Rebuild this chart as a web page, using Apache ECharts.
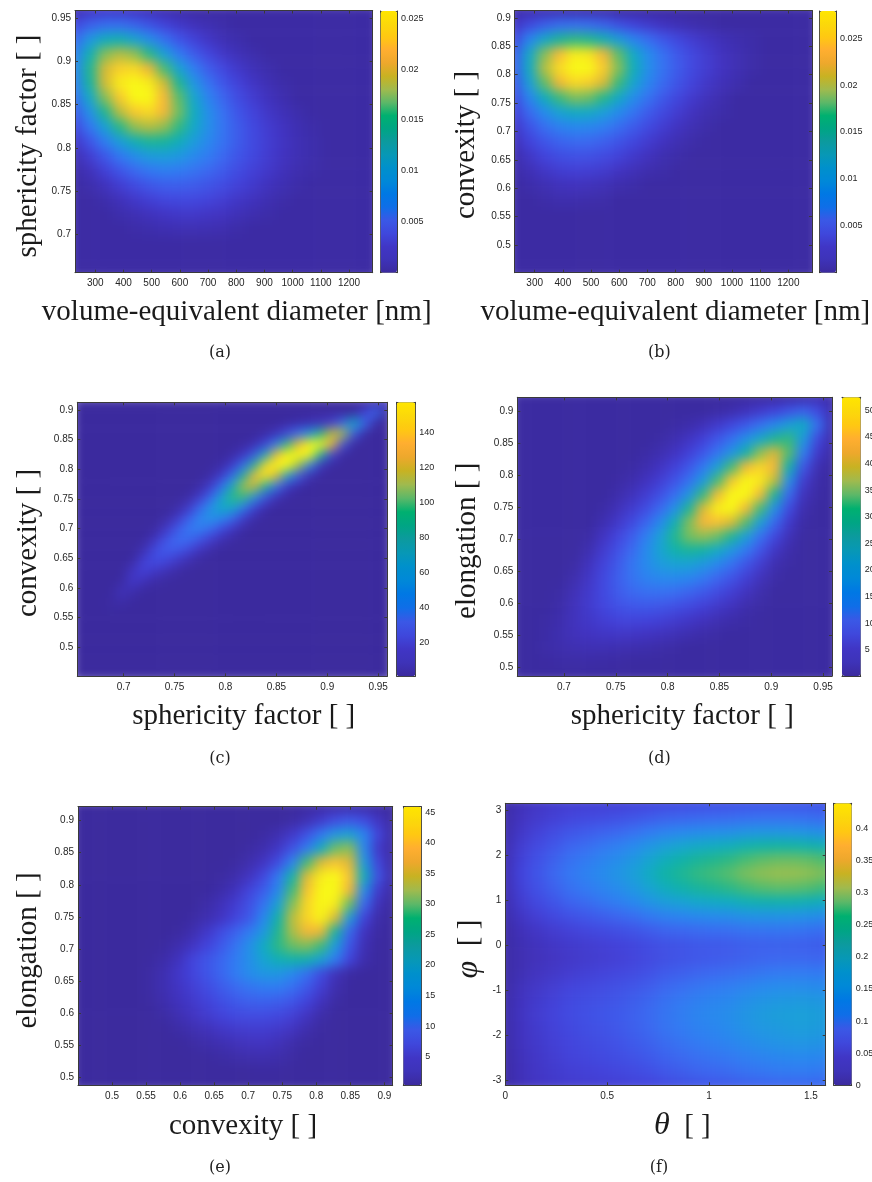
<!DOCTYPE html>
<html><head><meta charset="utf-8">
<style>
html,body{margin:0;padding:0;background:#fff;width:872px;height:1182px;overflow:hidden}
#clip,#heat,#main{position:absolute;left:0;top:0;width:872px;height:1182px}
#heat{filter:blur(6px)}
</style>
<script src="https://cdn.jsdelivr.net/npm/echarts@6/dist/echarts.min.js"></script>
</head><body>
<div id="clip"><div id="heat"></div></div>
<div id="main"></div>
<script>
// Each row: [first listed column, values...]; cells not listed hold the panel's background level.
// Panel (a) density, in units of 1e-3
const rowsA=[
[0,.7,1.3,1.6,1.5,1.2,.9,.6,.4],
[0,2.8,4.3,5.2,5.3,4.6,3.5,2.4,1.6,1,.7,.4],
[0,5,8.5,11,11.5,10,7.8,5.5,3.6,2.3,1.4,.8,.5],
[0,6.5,11.5,16,17.5,16.5,13.5,9.5,6.2,4,2.5,1.5,.9,.5],
[0,7,13,18.5,22,22.5,19.5,14.5,9.8,6.3,4,2.6,1.6,.9,.5],
[0,6.5,12.5,18.5,23.5,25.5,23.5,18.5,13,8.5,5.5,3.6,2.3,1.4,.8,.4],
[0,5.5,10.5,16,21.5,24.8,24.5,20.5,15,10.2,6.8,4.6,3,1.9,1.1,.6],
[0,4,8,13,17.5,21.5,22.5,20,15.5,11,7.7,5.3,3.6,2.4,1.5,.9,.5],
[0,2.8,5.8,9.5,13.5,16.5,17.5,16.5,13.8,10.5,7.8,5.6,4,2.8,1.9,1.2,.7,.4],
[0,1.6,3.6,6.3,9.2,11.5,12.8,12.6,11.2,9.1,7.2,5.5,4,2.9,2,1.3,.8,.5],
[0,.8,2,3.8,5.9,7.7,9,9.3,8.7,7.4,6.2,4.8,3.6,2.7,1.9,1.2,.8,.5],
[0,.4,1,2.2,3.6,4.9,5.9,6.4,6.2,5.6,4.8,3.9,3,2.2,1.6,1,.6,.4],
[1,.5,1.1,2,2.9,3.7,4.2,4.3,4,3.5,3,2.3,1.7,1.1,.7,.4],
[2,.5,1,1.6,2.1,2.6,2.8,2.7,2.4,2,1.5,1.1,.7,.4],
[3,.5,.8,1.1,1.4,1.6,1.6,1.4,1.2,.9,.6,.4],
[4,.4,.5,.7,.8,.8,.7,.6,.4],
[],[],[]];
// Panel (b) density, in units of 1e-3
const rowsB=[
[0,.5,.6,.7,.7,.6,.5,.4],
[0,1.5,3,4.5,5.5,5.8,5.5,4.7,3.6,2.6,1.9,1.3,.9,.6,.4],
[0,3,7.5,11,13.5,14.5,14,12.3,9.8,7.4,5.5,4,2.9,2,1.4,.9,.6,.4],
[0,4.5,11,17,22,25,24.5,21,16,11.3,8,5.7,4,2.8,1.9,1.2,.8,.4],
[0,4.7,11.5,18.5,24,27.5,27,23,17,12,8.3,5.9,4.2,2.9,2,1.3,.8,.4],
[0,4,10,16,21,23.8,23.2,19.8,15,10.7,7.5,5.3,3.7,2.5,1.6,1,.6],
[0,3.2,7.5,11.7,15,16.8,16.4,14.2,11.2,8.2,5.9,4.1,2.8,1.8,1.1,.6],
[0,2.4,5.3,8,10.3,11.4,11.2,9.9,8,6,4.3,3,2,1.2,.7,.4],
[0,1.7,3.7,5.6,7,7.7,7.6,6.8,5.6,4.3,3.1,2.1,1.3,.8,.4],
[0,1.1,2.6,3.9,4.8,5.3,5.2,4.6,3.8,2.9,2,1.3,.8,.4],
[0,.6,1.6,2.6,3.3,3.6,3.5,3.1,2.5,1.8,1.2,.7,.4],
[0,.4,.9,1.6,2.1,2.3,2.2,1.9,1.4,1,.6,.4],
[1,.5,.8,1.1,1.2,1.1,.9,.6,.4],
[2,.4,.6,.6,.5,.4],
[],[],[],[],[]];
// Panel (c) density
const rowsC=[
[27,2,7],
[25,1,12,28,1],
[19,1.6,3,5,7.6,12,27,58,26,1],
[16,.6,2,6,17,30,46,70,96,90,22,1],
[15,1.2,4,14,36,73,105,132,142,103,20],
[14,1.8,7.5,22,57,107,148,154,128,66,13],
[13,2,9.5,29,67,117,148,130,88,39,7],
[12,1.9,9.5,29,66,107,123,99,52,21,4],
[11,1.9,9,28,58,90,95,67,32,9,2],
[10,1.7,8.2,24,50,72,74,48,19,5,.7],
[9,1.9,7.8,24,42,56,56,36,13,3],
[8,1.7,8,21,36,44,39,27,10,2],
[7,1.2,7.4,19,31,35,28,17,8,1.8],
[6,.7,6.4,17.5,27,28,20,11,4.6,1.5],
[6,3.9,15,22,21,15,7,2.7,.8],
[5,1.4,11.7,17,14.7,9.4,4.3,1.4],
[5,7.2,12.9,8.8,5.2,2.3,.8],
[4,1.2,9.5,5.4,2.2,1],
[4,5.9,3.2,.8],
[3,1.5,2.4,.7],
[3,1,.6],
[],[],[],[],[],[]];
// Panel (d) density
const rowsD=[
[19,.7,1,1.5,1],
[14,.6,1.2,2.2,3.5,5,7,9,6,1.5],
[11,.6,1,2,3.5,5.5,8,11,15,19,22,11,1.5],
[10,.7,1.4,2.7,4.6,7.5,11,16,21,26,28,18,6,1],
[9,.7,1.4,2.6,4.6,7.6,11.5,17,24,33,38,30,13,3.5,.7],
[8,.6,1.3,2.6,4.6,7.5,12,19,29,41,45,41,24,7.5,1.6],
[7,.5,1.2,2.4,4.3,7,11,18,29,43,50,47,36,16,4,.9],
[7,1,2.2,4,6.6,10.5,17,28,41,51,50,41,26,10,2.3,.6],
[6,.7,2,3.7,6.2,10,16,26,38,48,49,41,29,16,6,1.3],
[6,1.5,3.3,5.8,9.5,15,23,32,41,42.5,38,30,19,10,3.5,.7],
[5,.7,2.6,5,8.3,13,19,26.5,31.5,33,31,26,19,11,5.5,1.9],
[5,1.4,3.8,6.6,10,15,20,24,25.5,24.5,21.5,17,12,7,3,1],
[4,.6,2.3,4.8,7.8,11.5,15,18,19.5,19.5,17.5,14.5,11,7.3,3.9,1.5,.6],
[4,1.2,3,5.5,8.4,11.3,13.5,14.8,15,14.2,12,9.5,7,4.4,2.2,.8],
[3,.6,1.8,3.5,5.7,8,9.8,10.8,11,10.5,9.4,7.8,5.9,4.2,2.5,1.1],
[3,.9,2.2,3.7,5.3,6.8,7.6,7.8,7.5,6.8,5.8,4.6,3.4,2.3,1.2,.6],
[2,.6,1.2,2.3,3.3,4.3,5,5.2,5,4.6,3.9,3.2,2.4,1.6,1,.6],
[2,.7,1.4,2.1,2.6,3,3.2,3,2.7,2.3,1.9,1.4,.9,.6],
[2,.8,1.2,1.5,1.6,1.6,1.5,1.3,1.1,.8,.6],
[2,.4,.6,.7,.7,.6,.5],
[]];
// Panel (e) density
const rowsE=[
[16,.6,.8,1,1.1,.9,.6],
[15,.7,1.6,3.3,5.5,6.8,5.5,2.6,.5],
[13,.6,1.4,3,6,10.5,15,17,12.5,4.5,.7],
[12,.6,1.3,2.8,6,11,19,27,28.5,13,3,.7],
[11,.5,1.2,2.6,5.5,12,25,33,37,33,16,4.5,.6],
[10,.5,1.1,2.4,5,10.5,21,33,41,43,37,20,6,1],
[9,.4,1,2.2,4.6,7.5,13,25,37,44.5,45,35,14,3.5,.6],
[8,.3,.9,2,3.6,6,10,17,28,39,45,41,27,9,2],
[8,.6,1.4,2.6,4.5,7,13,21,31,39,42,33,16,4.5,1],
[7,.5,1.3,3,5.5,8,11,15.5,23,30,35,34,22,8.5,2.4,.6],
[6,.5,1.3,2.6,4.5,7,10,14,19,24,27,28,25,16,6.5,1.7,.4],
[5,.4,1,2.2,4.5,6.5,8.5,11,14,17.5,20,21,20.5,17,11,4.5,1.2,.4],
[5,.6,1.5,3,4.5,6.5,8.5,11,13.5,15,15,13,9.8,5.5,2,.6],
[5,.6,1.5,2.6,3.9,5.5,7.2,8.8,10.2,11,11,9.6,7,3.8,1.3,.4],
[5,.5,1.2,2.2,3.2,4.4,5.8,7,7.8,8,7.6,6.5,4.5,2.3,.7],
[6,.7,1.5,2.4,3.4,4.4,5.1,5.4,5.4,5,4,2.5,1],
[7,.8,1.4,2,2.8,3.3,3.6,3.6,3.2,2.4,1.2,.5],
[8,.6,1.1,1.5,2,2.3,2.4,1.9,1.1,.5],
[9,.4,.7,1,1.2,1.3,1.1,.6],
[13,.4,.4],
[]];
// Panel (f) density, in units of 1e-2
const rowsF=[
[0,.6,1.7,2.5,3.1,3.5,3.7,3.8,3.9,4.2,4.5,4.9,5.2,5.5,5.7,5.9,6.2,6.4,6.5,6.4,6.3,6],
[0,.7,2.1,3,3.7,4.4,4.9,5.3,5.7,6.3,7,7.8,8.2,8.6,8.8,9,9.4,9.6,9.6,9.6,9.3,8.8],
[0,.9,2.8,4,5.2,6.3,7.1,7.9,8.6,9.6,10.9,12.1,12.8,13.4,13.8,14,14.8,15,15,14.9,14.5,13.7],
[0,1.2,3.5,5,6.5,8.1,9.2,10.4,11.6,13.1,15,16.8,17.9,18.9,19.5,20.1,21.2,21.8,22,21.9,21.4,20.5],
[0,1.4,4.1,6,7.8,9.7,11,12.4,13.8,15.6,17.9,20.2,21.6,23,23.9,24.8,26.2,27.2,27.7,27.7,27.3,26.4],
[0,1.5,4.5,6.5,8.5,10.5,12,13.5,15,17,19.5,22,23.5,25,26,27,28.5,29.5,30,30,29.5,28.5],
[0,1.4,4.1,6,7.8,9.7,11,12.4,13.8,15.6,17.9,20.2,21.6,22.9,23.8,24.7,26,26.9,27.3,27.2,26.7,25.7],
[0,1.2,3.5,5,6.5,8.1,9.2,10.4,11.6,13.1,15,16.7,17.6,18.6,19.2,19.7,20.7,21.2,21.3,21.2,20.6,19.7],
[0,.9,2.6,3.8,4.9,6,6.8,7.6,8.5,9.5,10.9,12.1,12.8,13.4,13.8,14,14.8,15,15,14.9,14.5,13.7],
[0,.6,1.8,2.6,3.4,4.1,4.7,5.3,5.8,6.5,7.4,8.3,8.7,9.1,9.4,9.6,10.1,10.3,10.4,10.2,9.9,9.4],
[0,.5,1.4,2,2.6,3.2,3.5,3.9,4.3,4.8,5.5,6.1,6.5,6.9,7.1,7.3,7.7,7.9,8,7.9,7.7,7.4],
[0,.4,1.3,1.8,2.3,2.8,3.2,3.5,3.9,4.4,5.1,5.8,6.3,6.7,7.1,7.4,7.8,8.3,8.5,8.6,8.5,8.3],
[0,.5,1.4,2.1,2.7,3.3,3.8,4.2,4.7,5.3,6,7,7.6,8.3,8.8,9.3,9.8,10.4,10.8,11,11,10.8],
[0,.6,1.9,2.7,3.5,4.3,4.8,5.3,5.8,6.5,7.4,8.6,9.4,10.2,10.9,11.5,12.4,13.1,13.6,13.8,13.7,13.4],
[0,.7,2.2,3.2,4.1,5,5.6,6.1,6.7,7.5,8.6,9.9,10.8,11.8,12.5,13.2,14.3,15,15.6,15.8,15.8,15.4],
[0,.8,2.3,3.4,4.3,5.3,5.9,6.5,7.1,7.9,9,10.3,11.4,12.5,13.3,14,15.1,16.1,16.7,17,17,16.5],
[0,.7,2.2,3.2,4.1,4.9,5.6,6.1,6.8,7.7,8.8,10.1,11,12,12.7,13.6,14.7,15.5,16,16.4,16.4,16],
[0,.7,2.1,3,3.8,4.5,5.1,5.6,6.2,7,8,9.2,10.1,11,11.7,12.6,13.5,14.3,14.9,15.2,15.2,14.8],
[0,.6,1.9,2.8,3.5,4.2,4.6,5.1,5.6,6.2,7,8.1,8.9,9.6,10.3,10.8,11.7,12.4,12.9,13.2,13.1,12.8],
[0,.6,1.8,2.6,3.2,3.7,4,4.3,4.7,5.3,5.9,6.8,7.5,8.3,8.7,9.3,10,10.5,11,11.1,11.1,10.8],
[0,.5,1.7,2.4,2.9,3.3,3.5,3.7,3.8,4.2,4.5,5.3,5.8,6.3,6.8,7.2,7.7,8.1,8.4,8.6,8.7,8.6]];

const diamTicks=[300,400,500,600,700,800,900,1000,1100,1200];
const sphTicks=[.7,.75,.8,.85,.9,.95];
const convTicksA=[.5,.55,.6,.65,.7,.75,.8,.85,.9];
const elongTicks=[.5,.55,.6,.65,.7,.75,.8,.85,.9];
const thetaTicks=[0,.5,1,1.5];
const phiTicks=[-3,-2,-1,0,1,2,3];
const cbTicksA=[.005,.01,.015,.02,.025];
const cbTicksB=[.005,.01,.015,.02,.025];
const cbTicksC=[20,40,60,80,100,120,140];
const cbTicksD=[5,10,15,20,25,30,35,40,45,50];
const cbTicksE=[5,10,15,20,25,30,35,40,45];
const cbTicksF=[0,.05,.1,.15,.2,.25,.3,.35,.4];

const PLOT_RAMP=['#3B2A9E','#4133C0','#4243DB','#3F55E8','#3B68F0','#327AF2','#2888EE','#2096E2','#18A2D4','#10ACC0','#10B2A6','#22B78C','#48BC72','#7CBE5C','#A6BE48','#CCBA38','#EEB43A','#FBB83A','#FBCC2C','#F8E41E','#F8F816'];
const BAR_RAMP=['#3B2A9E','#3E33B8','#4036C6','#3F48DC','#3A58E6','#0F6EE8','#0078E4','#0088D8','#0090CC','#0798B6','#0C9A9E','#00A584','#00B070','#5CB868','#A0BA4E','#C8B222','#EDA82C','#FFAE30','#FFC812','#FBD80A','#FFE600'];

const panels=[
 {rows:rowsA,nx:21,ny:19,unit:1e-3,bg:.2,vmin:0,vmax:.0257,top:.0243,x:[228,1284],y:[.6555,.959],xt:diamTicks,yt:[.7,.75,.8,.85,.9,.95],cb:cbTicksA,
  r:[75,10.5,297.7,262.2],c:[380.5,11,16.5,261.7],xl:'volume-equivalent diameter [nm]',yl:'sphericity factor [ ]',xp:[236.7,312],yp:[28,146],cap:'(a)',cp:[220,353]},
 {rows:rowsB,nx:21,ny:19,unit:1e-3,bg:.2,vmin:0,vmax:.0279,top:.0258,x:[229,1284],y:[.4512,.9132],xt:diamTicks,yt:convTicksA,cb:cbTicksB,
  r:[514.7,10.5,297.3,262.2],c:[819.7,11,16.3,261.7],xl:'volume-equivalent diameter [nm]',yl:'convexity [ ]',xp:[675.3,312],yp:[466,145],cap:'(b)',cp:[659.3,353]},
 {rows:rowsC,nx:29,ny:27,unit:1,bg:.6,vmin:.57,vmax:157,top:128,x:[.6544,.959],y:[.4507,.913],xt:sphTicks,yt:convTicksA,cb:cbTicksC,
  r:[77.3,402.3,310,274],c:[396.7,402.3,18.6,274],xl:'sphericity factor [ ]',yl:'convexity [ ]',xp:[243.7,716.7],yp:[28,543],cap:'(c)',cp:[220,759.3]},
 {rows:rowsD,nx:23,ny:21,unit:1,bg:.3,vmin:.1,vmax:52.4,top:49,x:[.655,.9586],y:[.4871,.9223],xt:sphTicks,yt:elongTicks,cb:cbTicksD,
  r:[517.3,397.3,314.7,278.7],c:[842,397.3,18.7,278.7],xl:'sphericity factor [ ]',yl:'elongation [ ]',xp:[682.3,716.7],yp:[467.7,540.8],cap:'(d)',cp:[659.3,759.3]},
 {rows:rowsE,nx:23,ny:21,unit:1,bg:.3,vmin:.3,vmax:45.9,top:42.5,x:[.45,.9123],y:[.4874,.9218],xt:convTicksA,yt:elongTicks,cb:cbTicksE,
  r:[78,806.7,314.7,278.6],c:[403.3,806.7,18,278.6],xl:'convexity [ ]',yl:'elongation [ ]',xp:[243,1126],yp:[28,950.5],cap:'(e)',cp:[220,1168]},
 {rows:rowsF,nx:21,ny:21,unit:.01,bg:.5,vmin:0,vmax:.439,top:.439,x:[0,1.573],y:[-3.12,3.16],xt:thetaTicks,yt:phiTicks,cb:cbTicksF,
  r:[505.3,803.3,320.4,282],c:[833.7,803.3,18,282],xl:'{i|θ}  [ ]',yl:'{i|φ}  [ ]',xp:[682.3,1126],yp:[469,949],cap:'(f)',cp:[659,1168]}
];

// ---------- heat layer (softened by a CSS blur; cells are centred on the sampled positions)
const clip=panels.map(p=>`M${p.r[0]} ${p.r[1]}H${p.r[0]+p.r[2]}V${p.r[1]+p.r[3]}H${p.r[0]}Z`).join('');
document.getElementById('clip').style.clipPath=`path('${clip}')`;
const heat=echarts.init(document.getElementById('heat'),null,{renderer:'canvas'});
const hg=[],hx=[],hy=[],hs=[],hv=[];
panels.forEach((p,k)=>{
  const cw=p.r[2]/(p.nx-1), ch=p.r[3]/(p.ny-1);
  hg.push({left:p.r[0]-cw/2,top:p.r[1]-ch/2,width:p.r[2]+cw,height:p.r[3]+ch,outerBoundsMode:'none',show:false});
  const xs=[...Array(p.nx).keys()], ys=[...Array(p.ny).keys()];
  hx.push({type:'category',gridIndex:k,data:xs,show:false});
  hy.push({type:'category',gridIndex:k,data:ys,inverse:true,show:false});
  const cells=[];
  ys.forEach(i=>{
    const row=p.rows[i]||[], off=row.length?row[0]:0;
    xs.forEach(j=>{
      const v=(j>=off && j-off+1<row.length)?row[j-off+1]:p.bg;
      cells.push([j,i,Math.max(v,p.bg)*p.unit]);
    });
  });
  hs.push({type:'heatmap',xAxisIndex:k,yAxisIndex:k,data:cells,progressive:0,animation:false,silent:true,label:{show:false}});
  hv.push({type:'continuous',show:false,seriesIndex:k,min:p.vmin,max:p.top,inRange:{color:PLOT_RAMP}});
});
heat.setOption({animation:false,grid:hg,xAxis:hx,yAxis:hy,series:hs,visualMap:hv});

// ---------- axes, colour bars and text layer
const main=echarts.init(document.getElementById('main'),null,{renderer:'canvas'});
const AX='#3a3a3a', TXT='#262626', SANS='"Liberation Sans"', SERIF='"Liberation Serif"';
const fmt=v=>String(v);
const G=[],X=[],Y=[],VM=[],GR=[];
const line={show:true,onZero:false,lineStyle:{color:AX,width:1}};
panels.forEach((p,k)=>{
  const g=2*k, h=2*k+1;
  G.push({left:p.r[0],top:p.r[1],width:p.r[2],height:p.r[3],outerBoundsMode:'none'});
  G.push({left:p.c[0],top:p.c[1],width:p.c[2],height:p.c[3],outerBoundsMode:'none'});
  const tk=(vals)=>({show:true,inside:true,length:3,customValues:vals,lineStyle:{color:AX,width:1}});
  const lb=(vals,size,m)=>({show:true,customValues:vals,formatter:fmt,margin:m,color:TXT,fontSize:size,fontFamily:SANS,showMinLabel:true,showMaxLabel:true,hideOverlap:false});
  X.push({type:'value',gridIndex:g,min:p.x[0],max:p.x[1],position:'bottom',axisLine:line,axisTick:tk(p.xt),axisLabel:lb(p.xt,10,6),splitLine:{show:false}});
  X.push({type:'value',gridIndex:g,min:p.x[0],max:p.x[1],position:'top',axisLine:line,axisTick:tk(p.xt),axisLabel:{show:false},splitLine:{show:false}});
  Y.push({type:'value',gridIndex:g,min:p.y[0],max:p.y[1],position:'left',axisLine:line,axisTick:tk(p.yt),axisLabel:lb(p.yt,10,4),splitLine:{show:false}});
  Y.push({type:'value',gridIndex:g,min:p.y[0],max:p.y[1],position:'right',axisLine:line,axisTick:tk(p.yt),axisLabel:{show:false},splitLine:{show:false}});
  X.push({type:'value',gridIndex:h,min:0,max:1,position:'bottom',axisLine:line,axisTick:{show:false},axisLabel:{show:false},splitLine:{show:false}});
  X.push({type:'value',gridIndex:h,min:0,max:1,position:'top',axisLine:line,axisTick:{show:false},axisLabel:{show:false},splitLine:{show:false}});
  Y.push({type:'value',gridIndex:h,min:p.vmin,max:p.vmax,position:'left',axisLine:line,axisTick:{show:false},axisLabel:{show:false},splitLine:{show:false}});
  Y.push({type:'value',gridIndex:h,min:p.vmin,max:p.vmax,position:'right',axisLine:line,axisTick:tk(p.cb),axisLabel:lb(p.cb,9,4),splitLine:{show:false}});
  VM.push({type:'continuous',show:true,seriesIndex:[],min:p.vmin,max:p.vmax,calculable:false,realtime:false,hoverLink:false,
    left:p.c[0],top:p.c[1],itemWidth:p.c[2],itemHeight:p.c[3],padding:0,text:null,inRange:{color:BAR_RAMP},z:1});
  const rich={i:{fontFamily:SERIF,fontStyle:'italic',fontSize:32,fill:'#1a1a1a'}};
  GR.push({type:'text',x:p.xp[0],y:p.xp[1],silent:true,style:{text:p.xl,fontFamily:SERIF,fontSize:29,fill:'#1a1a1a',align:'center',verticalAlign:'middle',rich}});
  GR.push({type:'text',x:p.yp[0],y:p.yp[1],rotation:Math.PI/2,silent:true,style:{text:p.yl,fontFamily:SERIF,fontSize:29,fill:'#1a1a1a',align:'center',verticalAlign:'middle',rich}});
  GR.push({type:'text',x:p.cp[0],y:p.cp[1],silent:true,style:{text:p.cap,fontFamily:'"DejaVu Serif"',fontSize:16,fill:'#222',align:'center',verticalAlign:'middle'}});
});
main.setOption({animation:false,backgroundColor:'transparent',grid:G,xAxis:X,yAxis:Y,visualMap:VM,series:[],graphic:{elements:GR}});
</script>
</body></html>
